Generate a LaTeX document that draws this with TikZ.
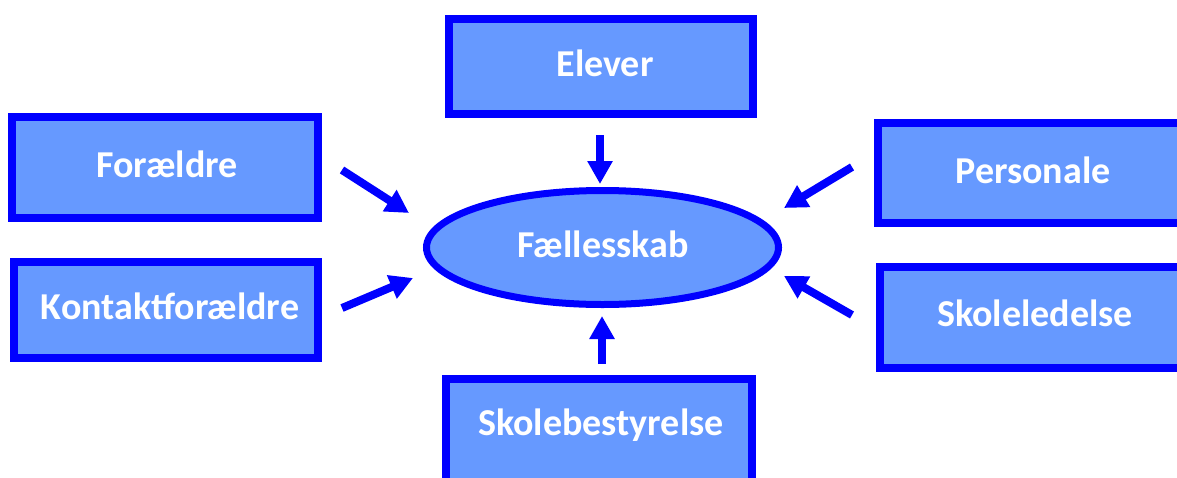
\documentclass[tikz,border=0pt]{standalone}
\usepackage{fontspec}
\setmainfont{Carlito}
\usetikzlibrary{arrows.meta,shapes.geometric}
\definecolor{boxfill}{RGB}{102,153,255}
\definecolor{boxline}{RGB}{0,0,255}
\tikzset{
  boxnode/.style={draw=boxline, fill=boxfill, line width=8pt, rectangle,
    inner sep=0pt, outer sep=0pt},
  ellnode/.style={draw=boxline, fill=boxfill, line width=7pt, ellipse,
    inner sep=0pt, outer sep=0pt},
  lbl/.style={text=white, inner sep=0pt, font=\bfseries\fontsize{38}{44}\selectfont},
  arr/.style={draw=boxline, line width=8pt, -{Triangle[width=24pt,length=23pt]}}
}
\begin{document}
\begin{tikzpicture}[x=1pt,y=-1pt]
\clip (0,0) rectangle (1177,477);
\fill[white] (0,0) rectangle (1177,477);

\node[boxnode, minimum width=304pt, minimum height=95pt] (elever) at (601,66.5) {};
\node[lbl] (eleverT) at (605,63) {Elever};

\node[boxnode, minimum width=306pt, minimum height=101pt] (foraeldre) at (165,167.5) {};
\node[lbl] (foraeldreT) at (167,164) {Forældre};

\node[boxnode, minimum width=304pt, minimum height=96pt] (kontakt) at (166,310) {};
\node[lbl] (kontaktT) at (170,306) {Kontaktforældre};

\node[boxnode, minimum width=320pt, minimum height=100pt] (personale) at (1038,173) {};
\node[lbl] (personaleT) at (1033,170) {Personale};

\node[boxnode, minimum width=320pt, minimum height=101pt] (skoleledelse) at (1040,317.5) {};
\node[lbl] (skoleledelseT) at (1035,313) {Skoleledelse};

\node[boxnode, minimum width=306pt, minimum height=110pt] (bestyrelse) at (599,434) {};
\node[lbl] (bestyrelseT) at (601,425) {Skolebestyrelse};

\node[ellnode, minimum width=352pt, minimum height=114pt] (faelles) at (602.5,247.5) {};
\node[lbl] (faellesT) at (603,244) {Fællesskab};

\coordinate (e1) at (600,135);  \coordinate (e2) at (600,184);
\coordinate (f1) at (342,170);  \coordinate (f2) at (409,213);
\coordinate (k1) at (342,308);  \coordinate (k2) at (413,278);
\coordinate (p1) at (852,167);  \coordinate (p2) at (784,208);
\coordinate (s1) at (852,315);  \coordinate (s2) at (784,276);
\coordinate (b1) at (602,364);  \coordinate (b2) at (602,316);

\draw[arr] (e1) -- (e2);
\draw[arr] (f1) -- (f2);
\draw[arr] (k1) -- (k2);
\draw[arr] (p1) -- (p2);
\draw[arr] (s1) -- (s2);
\draw[arr] (b1) -- (b2);
\end{tikzpicture}
\end{document}
